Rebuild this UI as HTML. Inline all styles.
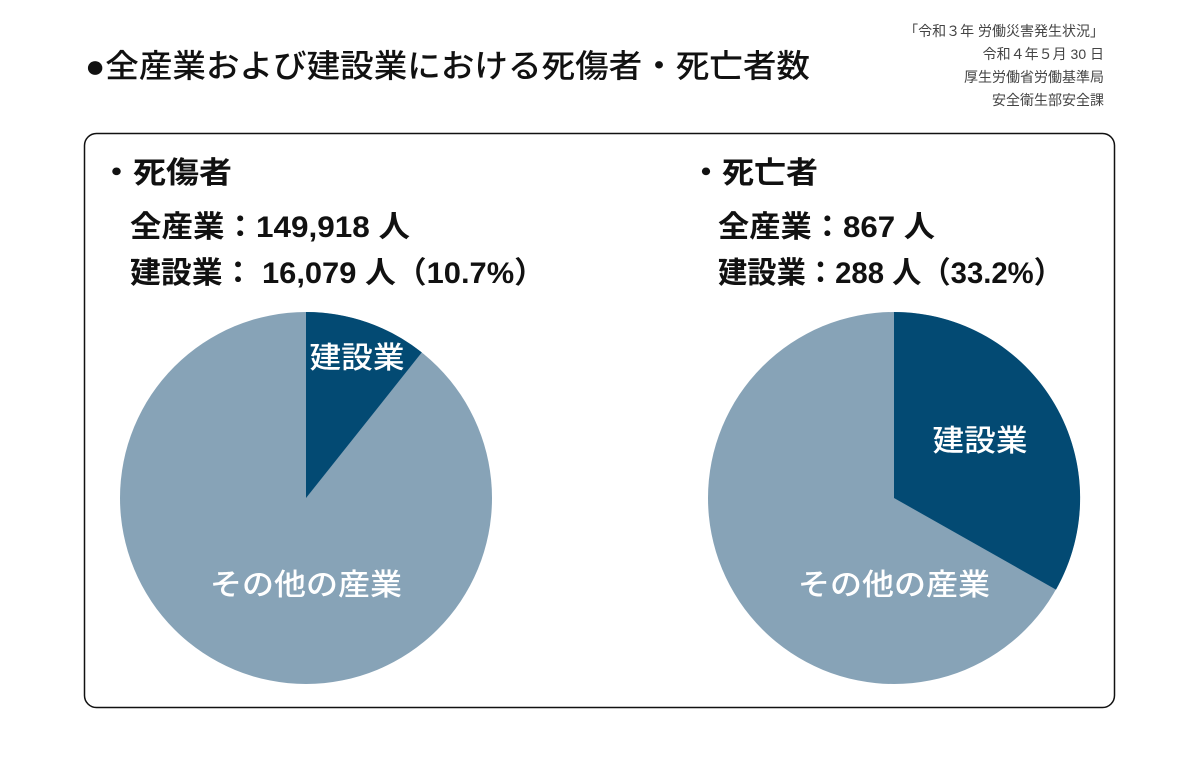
<!DOCTYPE html>
<html><head><meta charset="utf-8"><style>
body{margin:0;background:#fff;width:1200px;height:769px;overflow:hidden;font-family:"Liberation Sans","Noto Sans CJK JP",sans-serif;}
</style></head><body>
<svg width="1200" height="769" xmlns="http://www.w3.org/2000/svg" style="font-family:'Liberation Sans','Noto Sans CJK JP',sans-serif">
<text x="85" y="77" font-size="32" font-weight="500" fill="#111" textLength="725" lengthAdjust="spacingAndGlyphs">●全産業および建設業における死傷者・死亡者数</text>
<g font-size="14" fill="#444" text-anchor="end">
<text x="1104" y="36">「令和３年 労働災害発生状況」</text>
<text x="1104" y="59">令和４年５月 30 日</text>
<text x="1104" y="82">厚生労働省労働基準局</text>
<text x="1104" y="105">安全衛生部安全課</text>
</g>
<rect x="84.5" y="133.5" width="1030" height="574" rx="12" fill="none" stroke="#111" stroke-width="1.5"/>
<g font-size="30" font-weight="bold" fill="#111">
<text x="100" y="183" textLength="132" lengthAdjust="spacingAndGlyphs">・死傷者</text>
<text x="130" y="237" textLength="280" lengthAdjust="spacingAndGlyphs">全産業：149,918 人</text>
<text x="130" y="283" textLength="415" lengthAdjust="spacingAndGlyphs">建設業：  16,079 人（10.7%）</text>
<text x="690" y="183" textLength="128" lengthAdjust="spacingAndGlyphs">・死亡者</text>
<text x="718" y="237" textLength="217" lengthAdjust="spacingAndGlyphs">全産業：867 人</text>
<text x="718" y="283" textLength="345" lengthAdjust="spacingAndGlyphs">建設業：288 人（33.2%）</text>
</g>
<circle cx="306" cy="498" r="186" fill="#87a3b7"/>
<path d="M306 498 L306 312 A186 186 0 0 1 421.8 352.4 Z" fill="#034a73"/>
<circle cx="894" cy="498" r="186" fill="#87a3b7"/>
<path d="M894 498 L894 312 A186 186 0 0 1 1056 589.6 Z" fill="#034a73"/>
<g font-size="30" font-weight="500" fill="#fff" text-anchor="middle">
<text x="357" y="368" textLength="95" lengthAdjust="spacingAndGlyphs">建設業</text>
<text x="306" y="595" textLength="192" lengthAdjust="spacingAndGlyphs">その他の産業</text>
<text x="980" y="451" textLength="95" lengthAdjust="spacingAndGlyphs">建設業</text>
<text x="894" y="595" textLength="192" lengthAdjust="spacingAndGlyphs">その他の産業</text>
</g>
</svg>
</body></html>
